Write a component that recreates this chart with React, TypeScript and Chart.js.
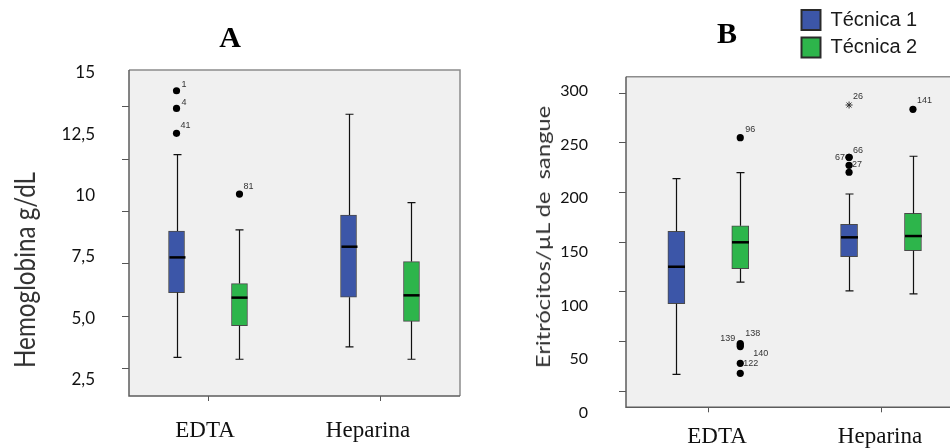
import React, { useEffect, useMemo, useRef } from 'react';
import { Chart, registerables } from 'chart.js';

Chart.register(...registerables);

// ---------------- data ----------------
const groups = ['EDTA', 'Heparina'];
const seriesNames = ['Técnica 1', 'Técnica 2'];
const seriesColors = ['#3c56a8', '#2db54b'];

// Panel A – Hemoglobina g/dL ; per group: [min, Q1, median, Q3, max]
const hbTecnica1 = [
  [3.04, 6.13, 7.81, 9.07, 12.71],
  [3.54, 5.91, 8.32, 9.83, 14.64],
];
const hbTecnica2 = [
  [2.95, 4.55, 5.89, 6.56, 9.12],
  [2.95, 4.76, 6.0, 7.61, 10.42],
];
const hbOutliers = [
  { group: 0, series: 0, value: 15.76, id: '1' },
  { group: 0, series: 0, value: 14.92, id: '4' },
  { group: 0, series: 0, value: 13.73, id: '41' },
  { group: 0, series: 1, value: 10.83, id: '81' },
];
const hbTicks = [2.5, 5, 7.5, 10, 12.5, 15];
const hbTickLabels = ['2,5', '5,0', '7,5', '10', '12,5', '15'];

// Panel B – Eritrócitos/µL de sangue ; per group: [min, Q1, median, Q3, max]
const erTecnica1 = [
  [17.1, 88.2, 125.4, 161.1, 214.0],
  [101.0, 135.5, 155.0, 168.1, 198.6],
];
const erTecnica2 = [
  [110.0, 123.4, 150.0, 166.7, 220.1],
  [98.0, 141.5, 156.3, 179.2, 236.6],
];
const erOutliers = [
  { group: 0, series: 1, value: 255.3, id: '96' },
  { group: 0, series: 1, value: 48.0, id: '138' },
  { group: 0, series: 1, value: 46.5, id: '139' },
  { group: 0, series: 1, value: 45.0, id: '140' },
  { group: 0, series: 1, value: 28.2, id: '122' },
  { group: 0, series: 1, value: 18.1, id: '' },
  { group: 1, series: 0, value: 288.2, id: '26', extreme: true },
  { group: 1, series: 0, value: 235.6, id: '66' },
  { group: 1, series: 0, value: 235.6, id: '67' },
  { group: 1, series: 0, value: 227.5, id: '27' },
  { group: 1, series: 0, value: 220.5, id: '' },
  { group: 1, series: 1, value: 283.9, id: '141' },
];
const erTicks = [0, 50, 100, 150, 200, 250, 300];
const erTickLabels = ['0', '50', '100', '150', '200', '250', '300'];

// ---------------- styling / layout ----------------
type Outlier = { group: number; series: number; value: number; id: string; extreme?: boolean };

// outlier label placement: [dx, dy, align]
const labelPlacement: Record<string, [number, number, CanvasTextAlign]> = {
  '1': [5, -6, 'left'],
  '4': [5, -6, 'left'],
  '41': [4, -7.5, 'left'],
  '81': [4, -8, 'left'],
  '96': [5, -8, 'left'],
  '138': [5, -10, 'left'],
  '139': [-5, -7, 'right'],
  '140': [13, 7, 'left'],
  '122': [3, 0, 'left'],
  '26': [4, -8, 'left'],
  '66': [4, -7, 'left'],
  '67': [-4, 0, 'right'],
  '27': [3, -1, 'left'],
  '141': [4, -9, 'left'],
};

type Layout = {
  left: number;
  width: number;
  padRight: number;
  titlePad: [number, number];
  yLabelWidth: number;
  yLabelPad: number;
  labelFont: number;
  dataRange: [number, number];
  labelRange: [number, number];
  xRange: [number, number];
  xLabelRange: [number, number];
  dodge: number;
  boxWidth: number;
  xHeight: number;
  xPad: number;
  legendAt?: [number, number];
};

type PanelSpec = {
  title: string;
  tecnica1: number[][];
  tecnica2: number[][];
  outliers: Outlier[];
  ticks: number[];
  tickLabels: string[];
  layout: Layout;
};

const panelA: PanelSpec = {
  title: 'A',
  tecnica1: hbTecnica1,
  tecnica2: hbTecnica2,
  outliers: hbOutliers,
  ticks: hbTicks,
  tickLabels: hbTickLabels,
  layout: {
    left: 0,
    width: 502,
    padRight: 42,
    titlePad: [21, 13],
    yLabelWidth: 122,
    yLabelPad: 27,
    labelFont: 17,
    dataRange: [1.197, 16.751],
    labelRange: [1.822, 15.123],
    xRange: [0.5407, 2.4651],
    xLabelRange: [0.5337, 2.5644],
    dodge: 0.183,
    boxWidth: 16,
    xHeight: 52,
    xPad: 21,
  },
};

const panelB: PanelSpec = {
  title: 'B',
  tecnica1: erTecnica1,
  tecnica2: erTecnica2,
  outliers: erOutliers,
  ticks: erTicks,
  tickLabels: erTickLabels,
  layout: {
    left: 502,
    width: 462,
    padRight: 12,
    titlePad: [17, 23.7],
    yLabelWidth: 117,
    yLabelPad: 31,
    labelFont: 16,
    dataRange: [-16.1, 316.7],
    labelRange: [5.3, 313.3],
    xRange: [0.5234, 2.411],
    xLabelRange: [0.4417, 2.4417],
    dodge: 0.185,
    boxWidth: 17,
    xHeight: 40.7,
    xPad: 16,
    legendAt: [292, 2.5],
  },
};

const HEIGHT = 448;
const TICK_LEN = 7;
const X_TICK_LEN = 5;
const CAP_WIDTH = 8;

function makePlugin(spec: PanelSpec) {
  const L = spec.layout;
  return {
    id: 'boxPlotExtras',
    beforeDraw(chart: any) {
      const { ctx, chartArea: a } = chart;
      ctx.save();
      ctx.fillStyle = '#f0f0f0';
      ctx.fillRect(a.left, a.top, a.right - a.left, a.bottom - a.top);
      ctx.restore();
    },
    afterLayout(chart: any) {
      const lg = chart.legend;
      if (!L.legendAt || !lg || !lg.options.display) return;
      const w = lg.width;
      const h = 80;
      lg.left = L.legendAt[0];
      lg.top = L.legendAt[1];
      lg.right = lg.left + w;
      lg.bottom = lg.top + h;
      lg.height = h;
    },
    beforeDatasetsDraw(chart: any) {
      const { ctx, chartArea: a } = chart;
      ctx.save();
      ctx.lineWidth = 1.5;
      ctx.strokeStyle = '#8c8c8c';
      ctx.beginPath();
      ctx.moveTo(a.left, a.top);
      ctx.lineTo(a.right, a.top);
      ctx.lineTo(a.right, a.bottom);
      ctx.stroke();
      ctx.strokeStyle = '#5c5c5c';
      ctx.beginPath();
      ctx.moveTo(a.left, a.top);
      ctx.lineTo(a.left, a.bottom);
      ctx.lineTo(a.right, a.bottom);
      ctx.stroke();
      ctx.restore();
    },
    afterDatasetsDraw(chart: any) {
      const { ctx } = chart;
      const xs = chart.scales.x;
      const ys = chart.scales.y;
      ctx.save();
      [spec.tecnica1, spec.tecnica2].forEach((stats, s) => {
        stats.forEach((st, g) => {
          const cx = Math.round(xs.getPixelForValue(g + 1 + (s === 0 ? -L.dodge : L.dodge))) + 0.5;
          const [mn, q1, md, q3, mx] = st.map((v) => ys.getPixelForValue(v));
          ctx.strokeStyle = '#111';
          ctx.lineWidth = 1.2;
          ctx.beginPath();
          ctx.moveTo(cx, mx);
          ctx.lineTo(cx, q3);
          ctx.moveTo(cx, q1);
          ctx.lineTo(cx, mn);
          ctx.moveTo(cx - CAP_WIDTH / 2, mx);
          ctx.lineTo(cx + CAP_WIDTH / 2, mx);
          ctx.moveTo(cx - CAP_WIDTH / 2, mn);
          ctx.lineTo(cx + CAP_WIDTH / 2, mn);
          ctx.stroke();
          ctx.strokeStyle = '#000';
          ctx.lineWidth = 2.5;
          ctx.beginPath();
          ctx.moveTo(cx - L.boxWidth / 2, md);
          ctx.lineTo(cx + L.boxWidth / 2, md);
          ctx.stroke();
        });
      });
      // outlier case labels
      ctx.font = '9px "Liberation Sans", Arial, sans-serif';
      ctx.fillStyle = '#333';
      ctx.textBaseline = 'middle';
      chart.data.datasets.forEach((ds: any, di: number) => {
        if (!ds.outlierIds) return;
        const meta = chart.getDatasetMeta(di);
        meta.data.forEach((pt: any, i: number) => {
          const id = ds.outlierIds[i];
          if (!id) return;
          const p = labelPlacement[id] || [4, -7, 'left'];
          ctx.textAlign = p[2];
          ctx.fillText(id, pt.x + p[0], pt.y + p[1]);
        });
      });
      ctx.restore();
    },
  };
}

function buildConfig(spec: PanelSpec): any {
  const L = spec.layout;
  const xOf = (g: number, s: number) => g + 1 + (s === 0 ? -L.dodge : L.dodge);
  const boxData = [spec.tecnica1, spec.tecnica2].map((stats, s) => ({
    type: 'bar',
    label: seriesNames[s],
    data: stats.map((st, g) => ({ x: xOf(g, s), y: [st[1], st[3]] })),
    backgroundColor: seriesColors[s],
    borderColor: '#4a4a4a',
    borderWidth: 1,
    borderSkipped: false,
    barThickness: L.boxWidth,
    grouped: false,
  }));
  const dots = spec.outliers.filter((o) => !o.extreme);
  const stars = spec.outliers.filter((o) => o.extreme);
  const dotSet: any = {
    type: 'scatter',
    label: 'outliers',
    data: dots.map((o) => ({ x: xOf(o.group, o.series), y: o.value })),
    outlierIds: dots.map((o) => o.id),
    pointRadius: 3.6,
    pointBackgroundColor: '#000',
    pointBorderColor: '#000',
    pointBorderWidth: 0,
    showLine: false,
  };
  const starSet: any = {
    type: 'scatter',
    label: 'extremes',
    data: stars.map((o) => ({ x: xOf(o.group, o.series), y: o.value })),
    outlierIds: stars.map((o) => o.id),
    pointStyle: 'star',
    pointRadius: 3.5,
    pointBackgroundColor: 'rgba(0,0,0,0)',
    pointBorderColor: '#333',
    pointBorderWidth: 1,
    showLine: false,
  };
  const datasets: any[] = [...boxData, dotSet];
  if (stars.length) datasets.push(starSet);

  const groupTicks = (axis: any) => {
    axis.ticks = groups.map((_, i) => ({ value: i + 1 }));
  };

  return {
    type: 'bar',
    data: { datasets },
    plugins: [makePlugin(spec)],
    options: {
      responsive: false,
      animation: false,
      events: [],
      devicePixelRatio: 1,
      layout: { padding: { left: 0, right: L.padRight, top: 0, bottom: 0 } },
      scales: {
        // data axis: carries the category tick marks
        x: {
          type: 'linear',
          position: 'bottom',
          weight: 0,
          offset: false,
          min: L.xRange[0],
          max: L.xRange[1],
          afterBuildTicks: groupTicks,
          afterFit: (axis: any) => {
            axis.height = X_TICK_LEN;
          },
          ticks: { display: false },
          grid: {
            display: true,
            offset: false,
            drawOnChartArea: false,
            drawTicks: true,
            tickLength: X_TICK_LEN,
            color: '#555',
            lineWidth: 1,
          },
          border: { display: false },
        },
        // label axis: carries the group names
        xl: {
          type: 'linear',
          axis: 'x',
          position: 'bottom',
          weight: 1,
          offset: false,
          min: L.xLabelRange[0],
          max: L.xLabelRange[1],
          afterBuildTicks: groupTicks,
          afterFit: (axis: any) => {
            axis.height = L.xHeight - X_TICK_LEN;
          },
          ticks: {
            callback: (_v: any, i: number) => groups[i],
            font: { family: '"Liberation Serif", "Times New Roman", serif', size: 23 },
            color: '#111',
            padding: L.xPad - X_TICK_LEN,
            maxRotation: 0,
            autoSkip: false,
          },
          grid: { display: false, drawTicks: false, offset: false },
          border: { display: false },
        },
        y: {
          type: 'linear',
          axis: 'y',
          position: 'left',
          weight: 0,
          min: L.dataRange[0],
          max: L.dataRange[1],
          afterBuildTicks: (axis: any) => {
            axis.ticks = spec.ticks.map((v) => ({ value: v }));
          },
          afterFit: (axis: any) => {
            axis.width = TICK_LEN;
          },
          ticks: { display: false },
          grid: { display: true, drawOnChartArea: false, drawTicks: true, tickLength: TICK_LEN, color: '#555', lineWidth: 1 },
          border: { display: false },
        },
        yl: {
          type: 'linear',
          axis: 'y',
          position: 'left',
          weight: 1,
          min: L.labelRange[0],
          max: L.labelRange[1],
          afterBuildTicks: (axis: any) => {
            axis.ticks = spec.ticks.map((v) => ({ value: v }));
          },
          afterFit: (axis: any) => {
            axis.width = L.yLabelWidth;
          },
          ticks: {
            callback: (_v: any, i: number) => spec.tickLabels[i],
            font: { family: 'Lato, "Open Sans", sans-serif', size: L.labelFont },
            color: '#111',
            padding: L.yLabelPad,
            autoSkip: false,
          },
          grid: { display: false, drawTicks: false },
          border: { display: false },
        },
      },
      plugins: {
        title: {
          display: true,
          text: spec.title,
          font: { family: '"Liberation Serif", "Times New Roman", serif', size: 30, weight: 'bold' },
          color: '#000',
          padding: { top: L.titlePad[0], bottom: L.titlePad[1] },
        },
        legend: L.legendAt
          ? {
              display: true,
              position: 'chartArea',
              align: 'start',
              labels: {
                boxWidth: 19,
                boxHeight: 20,
                padding: 7.5,
                color: '#1a1a1a',
                font: { family: '"Liberation Sans", Arial, sans-serif', size: 20 },
                generateLabels: (chart: any) => {
                  const items = (Chart as any).defaults.plugins.legend.labels.generateLabels(chart);
                  items.forEach((it: any) => {
                    it.lineWidth = 2;
                    it.strokeStyle = '#2a2a2a';
                  });
                  return items;
                },
                filter: (item: any) => item.datasetIndex < 2,
              },
            }
          : { display: false },
        tooltip: { enabled: false },
      },
    },
  };
}

function Panel({ spec }: { spec: PanelSpec }) {
  const ref = useRef<HTMLCanvasElement>(null);
  useEffect(() => {
    const chart = new Chart(ref.current as HTMLCanvasElement, buildConfig(spec));
    return () => chart.destroy();
  }, [spec]);
  return (
    <canvas
      ref={ref}
      width={spec.layout.width}
      height={HEIGHT}
      style={{ position: 'absolute', left: spec.layout.left, top: 0, width: spec.layout.width, height: HEIGHT }}
    />
  );
}

function AxisTitle({ text, size, cx, cy, length }: { text: string; size: number; cx: number; cy: number; length: number }) {
  const font = `${size}px Lato, "Open Sans", sans-serif`;
  const scale = useMemo(() => {
    const c = document.createElement('canvas').getContext('2d');
    if (!c) return 1;
    c.font = font;
    const w = c.measureText(text).width;
    return w > 0 ? length / w : 1;
  }, [text, font, length]);
  return (
    <div
      style={{
        position: 'absolute',
        left: cx,
        top: cy,
        transform: `translate(-50%, -50%) rotate(-90deg) scaleX(${scale})`,
        font,
        lineHeight: 1,
        color: '#333',
        whiteSpace: 'pre',
      }}
    >
      {text}
    </div>
  );
}

export default function App() {
  return (
    <div
      style={{
        position: 'fixed',
        left: 0,
        top: 0,
        width: 950,
        height: HEIGHT,
        overflow: 'hidden',
        background: '#fff',
      }}
    >
      <Panel spec={panelA} />
      <Panel spec={panelB} />
      <AxisTitle text="Hemoglobina g/dL" size={28} cx={24} cy={270} length={196} />
      <AxisTitle text="Eritrócitos/µL de  sangue" size={20} cx={542} cy={236.5} length={263} />
    </div>
  );
}
